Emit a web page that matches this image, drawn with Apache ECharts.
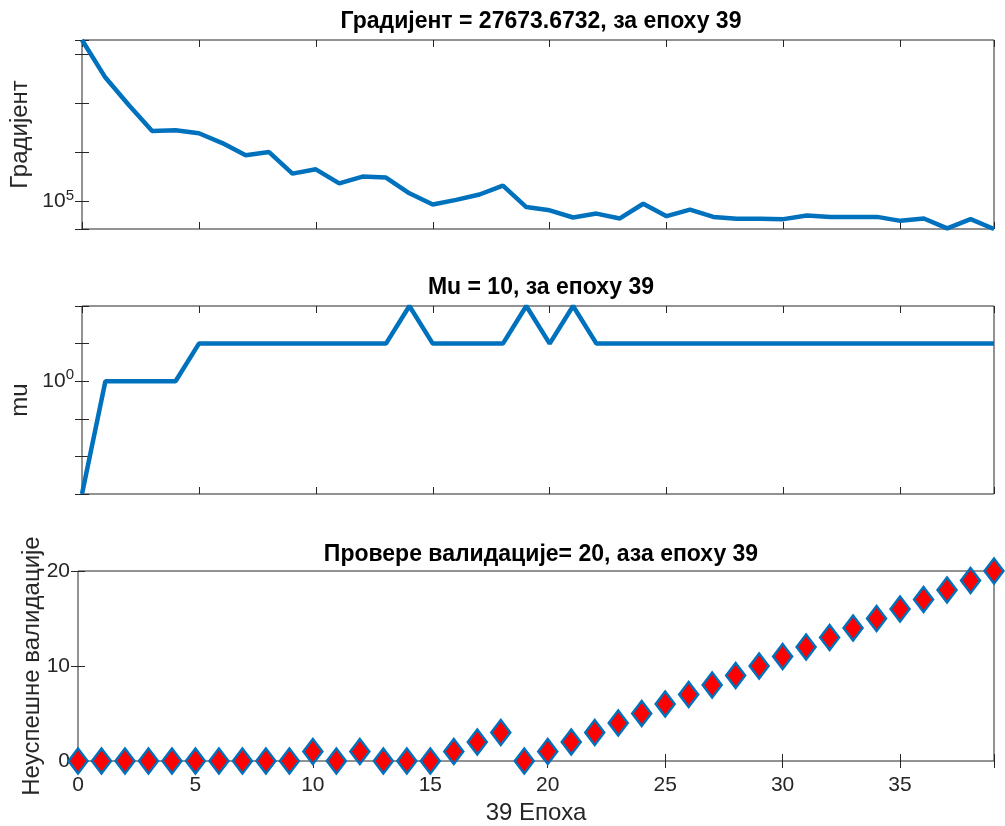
<!DOCTYPE html>
<html>
<head>
<meta charset="utf-8">
<script src="https://cdn.jsdelivr.net/npm/echarts@6/dist/echarts.min.js"></script>
<style>
  html, body { margin: 0; padding: 0; background: #fff; }
  #chart { width: 1005px; height: 826px; }
</style>
</head>
<body>
<div id="chart"></div>
<script>
// epochs 0..39
const epochs = Array.from({ length: 40 }, (_, i) => i)

// gradient per epoch (log scale)
const gradient = [
  2.0e8, 3.42e7, 9.38e6, 2.78e6, 2.86e6, 2.49e6, 1.57e6, 8.87e5, 1.03e6, 3.74e5,
  4.58e5, 2.36e5, 3.25e5, 3.10e5, 1.48e5, 8.79e4, 1.09e5, 1.40e5, 2.12e5, 7.76e4,
  6.67e4, 4.75e4, 5.71e4, 4.54e4, 9.08e4, 5.05e4, 6.89e4, 4.89e4, 4.46e4, 4.46e4,
  4.40e4, 5.21e4, 4.89e4, 4.89e4, 4.89e4, 4.06e4, 4.54e4, 2.85e4, 4.40e4, 27673.6732
]

// mu per epoch
const mu = [
  0.001, 1, 1, 1, 1, 10, 10, 10, 10, 10,
  10, 10, 10, 10, 100, 10, 10, 10, 10, 100,
  10, 100, 10, 10, 10, 10, 10, 10, 10, 10,
  10, 10, 10, 10, 10, 10, 10, 10, 10, 10
]

// failed validation checks per epoch
const valFail = [
  0, 0, 0, 0, 0, 0, 0, 0, 0, 0,
  1, 0, 1, 0, 0, 0, 1, 2, 3, 0,
  1, 2, 3, 4, 5, 6, 7, 8, 9, 10,
  11, 12, 13, 14, 15, 16, 17, 18, 19, 20
]

const titles = [
  'Градијент = 27673.6732, за епоху 39',
  'Mu = 10, за епоху 39',
  'Провере валидације= 20, аза епоху 39'
]
const yNames = ['Градијент', 'mu', 'Неуспешне валидације']
const xName = '39 Епоха'

const FONT = '"Liberation Sans", Arial, sans-serif'
const INK = '#262626'
const BLUE = '#0072BD'

const grids = [
  { left: 78, right: 11, top: 40, height: 189 },
  { left: 78, right: 11, top: 306, height: 188 },
  { left: 78, right: 11, top: 571, height: 190 }
]

const pow10Label = (exp) => (v) => {
  if (Math.abs(Math.log10(v) - exp) < 1e-6) return '{b|10}{s|' + exp + '}'
  return ''
}
const supRich = {
  b: { fontSize: 21, fontFamily: FONT, color: INK, lineHeight: 27 },
  s: { fontSize: 15, fontFamily: FONT, color: INK, lineHeight: 15, verticalAlign: 'top' }
}

const tick = { show: true, inside: true, length: 7, lineStyle: { color: INK, width: 1 } }

const xAxes = []
const yAxes = []
grids.forEach((g, i) => {
  const isLast = i === 2
  const xBase = {
    type: 'value', gridIndex: i, min: 0, max: 39, interval: 5,
    axisLine: { show: false }, splitLine: { show: false },
    axisTick: tick
  }
  xAxes.push(Object.assign({}, xBase, {
    position: 'bottom',
    name: isLast ? xName : '',
    nameLocation: 'middle', nameGap: 40,
    nameTextStyle: { fontFamily: FONT, fontSize: 24, color: INK },
    axisLabel: {
      show: isLast, margin: 14, fontFamily: FONT, fontSize: 21, color: INK,
      formatter: (v) => (v % 5 === 0 ? String(v) : '')
    }
  }))
  xAxes.push(Object.assign({}, xBase, { position: 'top', axisLabel: { show: false } }))
})

const yCommon = [
  { type: 'log', min: 27673.6732, max: 2.0e8, label: pow10Label(5), gap: 50 },
  { type: 'log', min: 0.001, max: 100, label: pow10Label(0), gap: 50 },
  { type: 'value', min: 0, max: 20, interval: 10, label: (v) => (v % 10 === 0 ? String(v) : ''), gap: 34 }
]
yCommon.forEach((c, i) => {
  const base = {
    type: c.type, gridIndex: i, min: c.min, max: c.max,
    axisLine: { show: false }, splitLine: { show: false },
    axisTick: tick
  }
  if (c.interval) base.interval = c.interval
  if (c.type === 'log') base.logBase = 10
  yAxes.push(Object.assign({}, base, {
    position: 'left',
    name: yNames[i], nameLocation: 'middle', nameGap: c.gap, nameRotate: 90,
    nameMoveOverlap: false,
    nameTextStyle: { fontFamily: FONT, fontSize: 24, color: INK },
    axisLabel: {
      show: true, margin: 8, fontFamily: FONT, fontSize: 21, color: INK,
      formatter: c.label, rich: supRich
    }
  }))
  yAxes.push(Object.assign({}, base, { position: 'right', axisLabel: { show: false } }))
})

const chart = echarts.init(document.getElementById('chart'))
chart.setOption({
  animation: false,
  backgroundColor: '#ffffff',
  title: titles.map((t, i) => ({
    text: t, left: 536, top: [5, 271, 538][i], textAlign: 'center',
    textStyle: { fontFamily: FONT, fontSize: 23, fontWeight: 'bold', color: '#000' }
  })),
  grid: grids.map(g => Object.assign({ show: true, borderColor: INK, borderWidth: 1, backgroundColor: '#fff' }, g)),
  xAxis: xAxes,
  yAxis: yAxes,
  series: [
    {
      type: 'line', xAxisIndex: 0, yAxisIndex: 0, showSymbol: false,
      lineStyle: { color: BLUE, width: 4.5 },
      data: epochs.map((e, i) => [e, gradient[i]])
    },
    {
      type: 'line', xAxisIndex: 2, yAxisIndex: 2, showSymbol: false,
      lineStyle: { color: BLUE, width: 4.5 },
      data: epochs.map((e, i) => [e, mu[i]])
    },
    {
      type: 'scatter', xAxisIndex: 4, yAxisIndex: 4, clip: false,
      symbol: 'diamond', symbolSize: [19, 25],
      itemStyle: { color: '#ff0000', borderColor: BLUE, borderWidth: 2.5, opacity: 1 },
      data: epochs.map((e, i) => [e, valFail[i]])
    }
  ]
})
</script>
</body>
</html>
